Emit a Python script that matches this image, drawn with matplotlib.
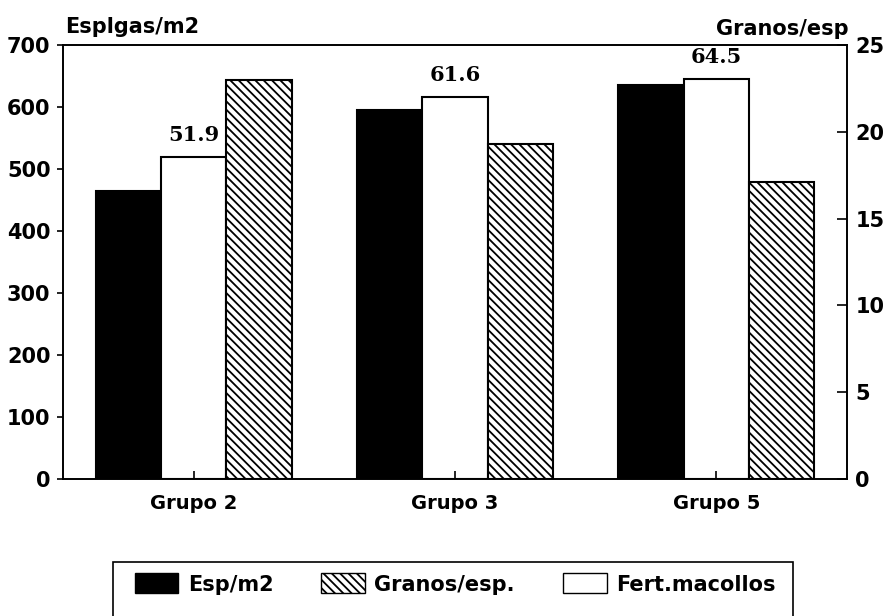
import matplotlib
matplotlib.use('Agg')
import matplotlib.pyplot as plt
import numpy as np
from matplotlib.patches import Patch, Rectangle

plt.rcParams['font.family'] = ['DejaVu Sans']
plt.rcParams['font.weight'] = 'bold'
plt.rcParams['hatch.linewidth'] = 1.3

grupos = ['Grupo 2', 'Grupo 3', 'Grupo 5']
esp_m2 = [464, 595, 635]          # espigas/m2 (left axis)
fert_macollos = [51.9, 61.6, 64.5]  # shown as x10 on left axis
granos_esp = [23.0, 19.3, 17.1]   # granos/espiga (right axis)

x = np.arange(len(grupos))
w = 0.25
hatch = '\\' * 4

fig = plt.figure(figsize=(8.88, 6.16), dpi=100)
ax = fig.add_axes([63/888, 1-479/616, 784/888, 434/616])
ax2 = ax.twinx()

ax.bar(x - w, esp_m2, w, color='black', edgecolor='black', linewidth=1.5)
ax.bar(x, [f * 10 for f in fert_macollos], w, color='white', edgecolor='black', linewidth=1.5)
ax2.bar(x + w, granos_esp, w, color='white', edgecolor='black', linewidth=1.5, hatch=hatch)

for xi, f in zip(x, fert_macollos):
    ax.annotate(f'{f:.1f}', (xi, f * 10), xytext=(0, 9), textcoords='offset points',
                ha='center', va='bottom', fontsize=15, fontweight='bold',
                family=['DejaVu Serif'])

ax.set_xlim(-0.5, 2.5)
ax.set_ylim(0, 700)
ax2.set_ylim(0, 25)
ax.set_yticks(range(0, 701, 100))
ax2.set_yticks(range(0, 26, 5))
ax.set_xticks(x)
ax.set_xticklabels(grupos, fontsize=14)
ax.tick_params(axis='y', direction='out', length=4, width=1.2, labelsize=15, pad=5)
ax.tick_params(axis='x', direction='in', length=6, width=1.2, pad=11)
ax2.tick_params(axis='y', direction='in', length=7, width=1.2, labelsize=15, pad=6)
for a in (ax, ax2):
    for s in a.spines.values():
        s.set_linewidth(1.2)

fig.text(65/888, 1-27/616, 'Esplgas/m2', fontsize=15, ha='left', va='center')
fig.text(849/888, 1-29/616, 'Granos/esp', fontsize=15, ha='right', va='center')

handles = [Patch(facecolor='black', edgecolor='black'),
           Patch(facecolor='white', edgecolor='black', hatch=hatch),
           Patch(facecolor='white', edgecolor='black')]
labels = ['Esp/m2', 'Granos/esp.', 'Fert.macollos']
fig.legend(handles, labels, loc='center', bbox_to_anchor=(455/888, 1-584/616), ncol=3,
           frameon=False, fontsize=15, handlelength=2.1, handleheight=1.1,
           columnspacing=2.3, handletextpad=0.45)
fig.patches.append(Rectangle((113/888, -0.05), 680/888, 0.05 + (616-562)/616,
                             transform=fig.transFigure, fill=False,
                             edgecolor='black', linewidth=1.2))

fig.savefig('out.png', dpi=100)
